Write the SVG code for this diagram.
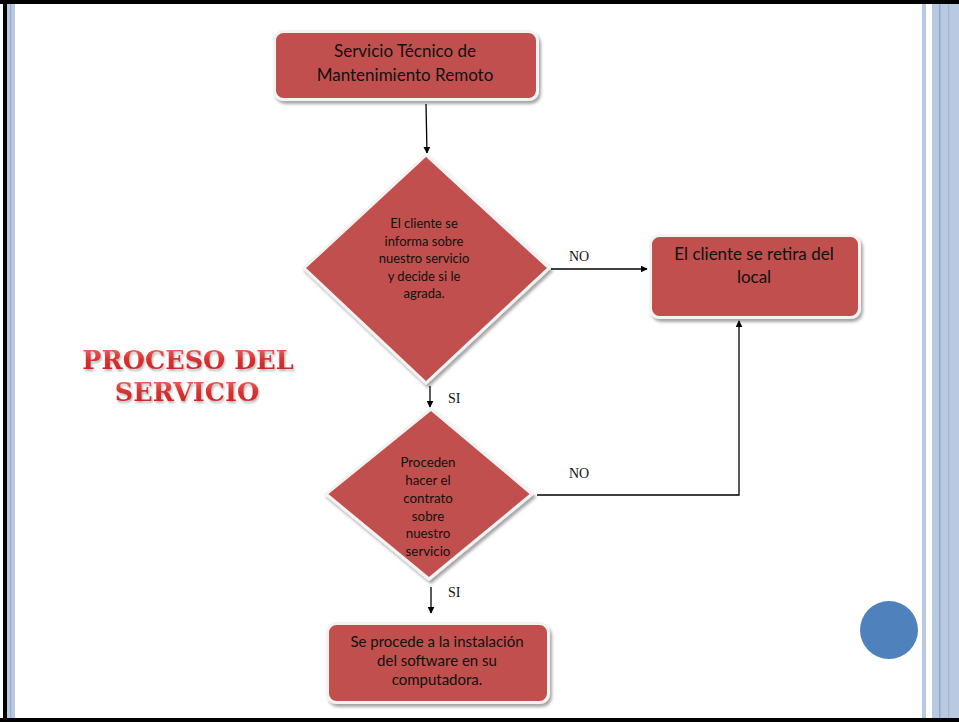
<svg xmlns="http://www.w3.org/2000/svg" width="959" height="722" viewBox="0 0 959 722">
<defs>
<style>
.node{fill:#c0504d;stroke:#f3f3f3;stroke-width:3;filter:url(#sh)}
.t{font-family:Lato,"Noto Sans",sans-serif;fill:#111;text-anchor:middle}
.lbl{font-family:"Liberation Serif",serif;font-size:14px;fill:#111}
.ln{stroke:#000;stroke-width:1.3;fill:none}
.title{font-family:"DejaVu Serif",serif;font-weight:bold;font-size:25.5px;fill:url(#tg);text-anchor:middle;filter:url(#tsh)}
</style>
<filter id="sh" x="-10%" y="-10%" width="125%" height="130%">
<feDropShadow dx="2" dy="3" stdDeviation="1.5" flood-color="#000" flood-opacity="0.35"/>
</filter>
<filter id="tsh" x="-5%" y="-20%" width="110%" height="150%">
<feDropShadow dx="1" dy="2" stdDeviation="1" flood-color="#000" flood-opacity="0.3"/>
</filter>
<linearGradient id="tg" x1="0" y1="0" x2="0" y2="1">
<stop offset="0" stop-color="#f07070"/>
<stop offset="0.5" stop-color="#d83030"/>
<stop offset="1" stop-color="#c02828"/>
</linearGradient>
<marker id="ah" viewBox="0 0 10 10" refX="9" refY="5" markerWidth="7" markerHeight="7" orient="auto" markerUnits="userSpaceOnUse">
<path d="M0,0 L10,5 L0,10 z" fill="#000"/>
</marker>
</defs>
<rect x="0" y="0" width="959" height="722" fill="#fff"/>
<g id="frame">
<rect x="0" y="0" width="959" height="4" fill="#000"/>
<rect x="0" y="718" width="959" height="4" fill="#000"/>
<rect x="3" y="0" width="4" height="722" fill="#000"/>
<rect x="7" y="4" width="8" height="714" fill="#b9c9e0"/>
<rect x="10" y="4" width="1.2" height="714" fill="#94acd2"/>
<rect x="922" y="4" width="4" height="714" fill="#b9c9e0"/>
<rect x="932" y="4" width="27" height="714" fill="#b9c9e0"/>
<rect x="939" y="4" width="1.5" height="714" fill="#8ea7d0"/>
<rect x="948" y="4" width="1.2" height="714" fill="#a0b5d8"/>
</g>
<g id="title">
<text class="title" x="188" y="369">PROCESO DEL</text>
<text class="title" x="187" y="401">SERVICIO</text>
</g>
<g id="connectors">
<line class="ln" x1="426" y1="104" x2="427" y2="153" marker-end="url(#ah)"/>
<line class="ln" x1="551" y1="269" x2="647" y2="269" marker-end="url(#ah)"/>
<line class="ln" x1="430" y1="386" x2="430" y2="407" marker-end="url(#ah)"/>
<polyline class="ln" points="537,495 739,495 739,321" marker-end="url(#ah)"/>
<line class="ln" x1="431" y1="587" x2="431" y2="613" marker-end="url(#ah)"/>
<text class="lbl" x="569" y="261">NO</text>
<text class="lbl" x="448" y="403">SI</text>
<text class="lbl" x="569" y="478">NO</text>
<text class="lbl" x="448" y="597">SI</text>
</g>
<g id="n1">
<rect class="node" x="274.5" y="31.5" width="263" height="68" rx="9"/>
<text class="t" font-size="17" x="405" y="57">Servicio Técnico de</text>
<text class="t" font-size="17" x="405" y="81">Mantenimiento Remoto</text>
</g>
<g id="n2">
<polygon class="node" points="426,155 549,268 426,383 304,268"/>
<text class="t" font-size="13" x="424" y="228">El cliente se</text>
<text class="t" font-size="13" x="424" y="246">informa sobre</text>
<text class="t" font-size="13" x="424" y="263">nuestro servicio</text>
<text class="t" font-size="13" x="424" y="281">y decide si le</text>
<text class="t" font-size="13" x="424" y="298">agrada.</text>
</g>
<g id="n3">
<rect class="node" x="650.5" y="235.5" width="209" height="82" rx="9"/>
<text class="t" font-size="17" x="754" y="260">El cliente se retira del</text>
<text class="t" font-size="17" x="754" y="283">local</text>
</g>
<g id="n4">
<polygon class="node" points="431,409 532,494 429,579 326,494"/>
<text class="t" font-size="13.3" x="428" y="467">Proceden</text>
<text class="t" font-size="13.3" x="428" y="485">hacer el</text>
<text class="t" font-size="13.3" x="428" y="503">contrato</text>
<text class="t" font-size="13.3" x="428" y="521">sobre</text>
<text class="t" font-size="13.3" x="428" y="538">nuestro</text>
<text class="t" font-size="13.3" x="428" y="556">servicio</text>
</g>
<g id="n5">
<rect class="node" x="327.5" y="623.5" width="221" height="79" rx="9"/>
<text class="t" font-size="15" x="437" y="647">Se procede a la instalación</text>
<text class="t" font-size="15" x="437" y="666">del software en su</text>
<text class="t" font-size="15" x="437" y="685">computadora.</text>
</g>
<g id="circle">
<circle cx="889" cy="630" r="29" fill="#4f81bd"/>
</g>
</svg>
